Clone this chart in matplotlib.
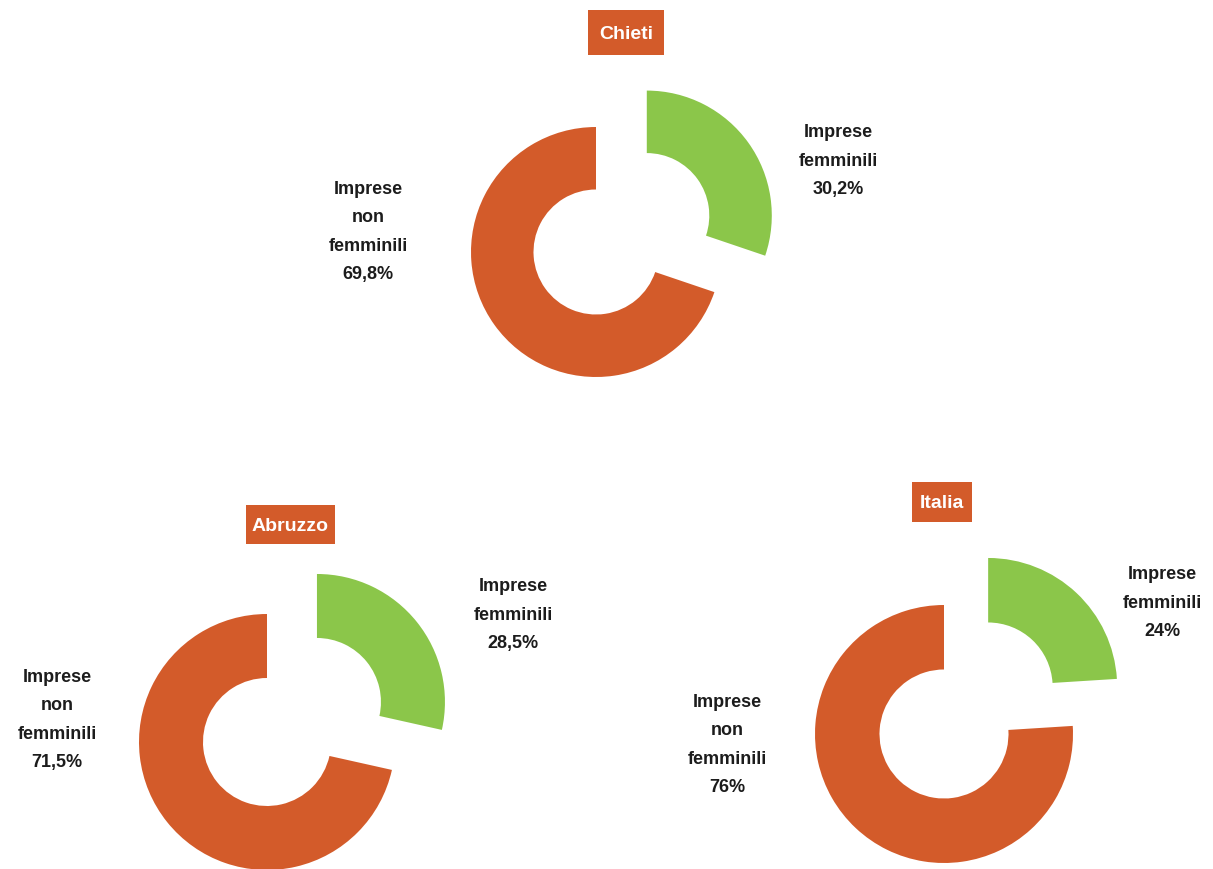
import matplotlib.pyplot as plt
from matplotlib.patches import Rectangle

plt.rcParams['font.family'] = ['Liberation Sans', 'DejaVu Sans']

# data
regions = ['Chieti', 'Abruzzo', 'Italia']
femminili = [30.2, 28.5, 24.0]
non_femminili = [69.8, 71.5, 76.0]
fem_labels = ['30,2%', '28,5%', '24%']
non_fem_labels = ['69,8%', '71,5%', '76%']

GREEN = '#8BC64A'
ORANGE = '#D35B2A'
W, H = 1213, 869

# layout in pixel coords (x, y from top)
centers = [(596, 252), (267, 742), (944, 734)]
radii = [125, 128, 129]
fem_pos = [(838, 161), (513, 615), (1162, 603)]
non_pos = [(368, 232), (57, 720), (727, 745)]
title_pos = [(626, 32.5), (290, 524.5), (942, 502)]
title_box = [(76, 45), (89, 39), (60, 40)]

fig = plt.figure(figsize=(W / 100, H / 100), dpi=100)
ax = fig.add_axes([0, 0, 1, 1])

for i, reg in enumerate(regions):
    cx, cy = centers[i]
    r = radii[i]
    # explode is in data units here, so scale by radius
    ax.pie([femminili[i], non_femminili[i]], colors=[GREEN, ORANGE],
           startangle=90, counterclock=False, explode=[0.5 * r, 0],
           center=(cx, H - cy), radius=r,
           wedgeprops=dict(width=r * 0.5, linewidth=0))
    fx, fy = fem_pos[i]
    ax.text(fx, H - fy, 'Imprese\nfemminili\n' + fem_labels[i], ha='center', va='center',
            fontsize=13, fontweight='bold', color='#1c1c1c', linespacing=1.85)
    nx, ny = non_pos[i]
    ax.text(nx, H - ny, 'Imprese\nnon\nfemminili\n' + non_fem_labels[i], ha='center', va='center',
            fontsize=13, fontweight='bold', color='#1c1c1c', linespacing=1.85)
    tx, ty = title_pos[i]
    bw, bh = title_box[i]
    ax.add_patch(Rectangle((tx - bw / 2, H - ty - bh / 2), bw, bh, fc=ORANGE, ec='none'))
    ax.text(tx, H - ty, reg, ha='center', va='center_baseline', fontsize=14, fontweight='bold',
            color='white')

ax.set_xlim(0, W)
ax.set_ylim(0, H)
ax.set_aspect('equal')
ax.axis('off')

fig.savefig('out.png', dpi=100)
